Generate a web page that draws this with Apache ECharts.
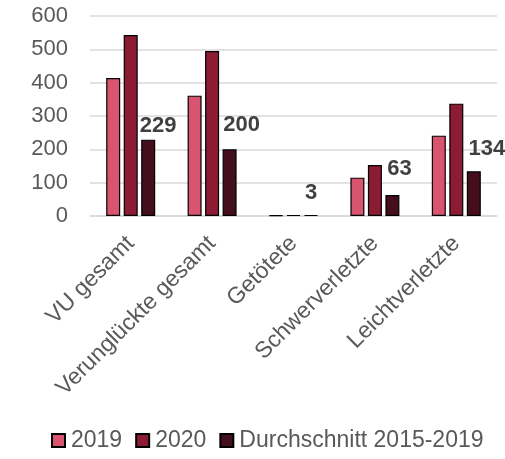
<!DOCTYPE html>
<html>
<head>
<meta charset="utf-8">
<script src="https://cdn.jsdelivr.net/npm/echarts@6/dist/echarts.min.js"></script>
<style>
  html, body { margin: 0; padding: 0; background: #fff; }
  #chart { width: 505px; height: 459px; }
</style>
</head>
<body>
<div id="chart"></div>
<script>
const categories = ['VU gesamt', 'Verunglückte gesamt', 'Getötete', 'Schwerverletzte', 'Leichtverletzte'];
const seriesNames = ['2019', '2020', 'Durchschnitt 2015-2019'];
const values2019 = [414, 361, 2, 115, 241];
const values2020 = [543, 495, 3, 153, 337];
const valuesAvg = [229, 200, 3, 63, 134];
const yTicks = [0, 100, 200, 300, 400, 500, 600];

// label nudges for the average series (Excel placed them slightly off-centre)
const avgLabelOffset = [[10, 0], [12, -10], [0, -8], [7, -12], [13, -8]];

const colors = ['#d9546e', '#8b1c33', '#450e1c'];
const textGray = '#595959';
const font = 'Liberation Sans, Arial, sans-serif';

const chart = echarts.init(document.getElementById('chart'));

function barSeries(name, data, color, withLabel) {
  return {
    name: name,
    type: 'bar',
    barWidth: 14,
    barGap: '25%',
    itemStyle: { color: color, borderColor: '#000', borderWidth: 1.2 },
    data: data.map((v, i) => withLabel ? {
      value: v,
      label: { offset: avgLabelOffset[i] }
    } : v),
    label: withLabel ? {
      show: true,
      position: 'top',
      distance: 3,
      fontFamily: font,
      fontSize: 22,
      fontWeight: 'bold',
      color: '#404040'
    } : { show: false }
  };
}

chart.setOption({
  animation: false,
  grid: { left: 90, right: 8, top: 16, bottom: 243 },
  legend: {
    bottom: 2,
    left: 46,
    itemWidth: 13,
    itemHeight: 13,
    itemGap: 13,
    icon: 'rect',
    textStyle: { fontFamily: font, fontSize: 23, color: textGray, padding: [0, 0, 0, 1] },
    data: seriesNames
  },
  xAxis: {
    type: 'category',
    data: categories,
    axisLine: { show: true, lineStyle: { color: '#d9d9d9', width: 1.5 } },
    axisTick: { show: false },
    axisLabel: {
      rotate: 45,
      interval: 0,
      margin: 24,
      fontFamily: font,
      fontSize: 23,
      color: textGray
    }
  },
  yAxis: {
    type: 'value',
    min: yTicks[0],
    max: yTicks[yTicks.length - 1],
    interval: yTicks[1] - yTicks[0],
    axisLine: { show: false },
    axisTick: { show: false },
    splitLine: { lineStyle: { color: '#d9d9d9', width: 1.5 } },
    axisLabel: {
      margin: 22,
      fontFamily: font,
      fontSize: 22,
      color: textGray
    }
  },
  series: [
    barSeries(seriesNames[0], values2019, colors[0], false),
    barSeries(seriesNames[1], values2020, colors[1], false),
    barSeries(seriesNames[2], valuesAvg, colors[2], true)
  ]
});
</script>
</body>
</html>
